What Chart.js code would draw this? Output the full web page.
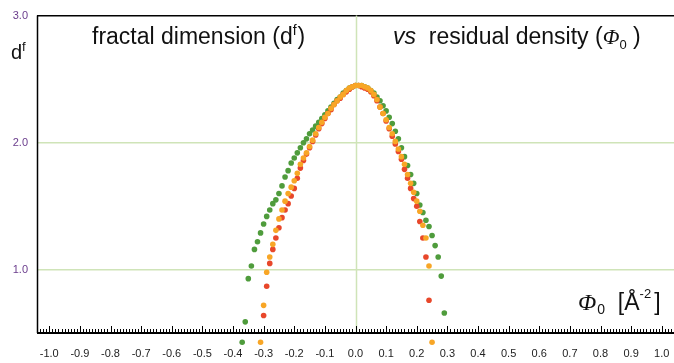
<!DOCTYPE html>
<html>
<head>
<meta charset="utf-8">
<script src="https://cdn.jsdelivr.net/npm/chart.js@4.4.1/dist/chart.umd.min.js"></script>
<style>
  html, body { margin: 0; padding: 0; background: #fff; }
</style>
</head>
<body>
<canvas id="myChart" width="674" height="363"></canvas>
<script>
// residual density Phi0 (A^-2), shared by the three series
const phi = [-0.37, -0.36, -0.35, -0.34, -0.33, -0.32, -0.31, -0.30, -0.29, -0.28,
             -0.27, -0.26, -0.25, -0.24, -0.23, -0.22, -0.21, -0.20, -0.19, -0.18,
             -0.17, -0.16, -0.15, -0.14, -0.13, -0.12, -0.11, -0.10, -0.09, -0.08,
             -0.07, -0.06, -0.05, -0.04, -0.03, -0.02, -0.01, 0.00, 0.01, 0.02,
             0.03, 0.04, 0.05, 0.06, 0.07, 0.08, 0.09, 0.10, 0.11, 0.12,
             0.13, 0.14, 0.15, 0.16, 0.17, 0.18, 0.19, 0.20, 0.21, 0.22,
             0.23, 0.24, 0.25, 0.26, 0.27, 0.28, 0.29];

// fractal dimension df for each series (null = no point)
const dfGreen = [0.43, 0.59, 0.93, 1.03, 1.16, 1.22, 1.29, 1.36, 1.42, 1.47,
                 1.52, 1.55, 1.60, 1.66, 1.73, 1.78, 1.84, 1.88, 1.92, 1.96,
                 2.00, 2.03, 2.07, 2.10, 2.13, 2.16, 2.19, 2.22, 2.25, 2.28,
                 2.31, 2.34, 2.36, 2.39, 2.41, 2.43, 2.44, 2.45, 2.45, 2.45,
                 2.44, 2.43, 2.41, 2.39, 2.36, 2.33, 2.29, 2.25, 2.20, 2.15,
                 2.09, 2.03, 1.96, 1.89, 1.82, 1.75, 1.68, 1.60, 1.51, 1.45,
                 1.39, 1.34, 1.27, 1.19, 1.10, 0.95, 0.66];

const dfOrange = [null, null, null, null, null, null, 0.43, 0.72, 0.98, 1.10,
                  1.20, 1.31, 1.40, 1.47, 1.54, 1.60, 1.65, 1.70, 1.76, 1.83,
                  1.88, 1.92, 1.97, 2.02, 2.07, 2.12, 2.16, 2.20, 2.23, 2.27,
                  2.30, 2.33, 2.36, 2.38, 2.41, 2.43, 2.44, 2.45, 2.45, 2.45,
                  2.44, 2.43, 2.41, 2.38, 2.34, 2.28, 2.23, 2.18, 2.12, 2.07,
                  2.01, 1.95, 1.89, 1.83, 1.75, 1.68, 1.61, 1.54, 1.46, 1.35,
                  1.25, 1.03, 0.43, null, null, null, null];

const dfRed = [null, null, null, null, null, null, null, 0.64, 0.87, 1.05,
               1.16, 1.25, 1.33, 1.41, 1.47, 1.52, 1.58, 1.64, 1.72, 1.80,
               1.86, 1.91, 1.96, 2.01, 2.06, 2.11, 2.15, 2.19, 2.23, 2.26,
               2.30, 2.33, 2.35, 2.38, 2.40, 2.42, 2.44, 2.45, 2.45, 2.44,
               2.43, 2.42, 2.40, 2.37, 2.33, 2.28, 2.23, 2.17, 2.11, 2.05,
               1.99, 1.93, 1.87, 1.79, 1.72, 1.64, 1.56, 1.50, 1.38, 1.25,
               1.10, 0.76, null, null, null, null, null];

const xTickValues = [-1.0, -0.9, -0.8, -0.7, -0.6, -0.5, -0.4, -0.3, -0.2, -0.1, 0.0,
                     0.1, 0.2, 0.3, 0.4, 0.5, 0.6, 0.7, 0.8, 0.9, 1.0];
const yTickValues = [1.0, 2.0, 3.0];
const xAxisAt = 0.5;   // df value where the x axis line sits

const gridGreen = '#cfe4b8';

function toPoints(ys) {
    return phi.map((x, i) => ({x: x, y: ys[i]})).filter(p => p.y !== null);
}

// draws a sequence of text pieces (for super/subscripts)
function drawRuns(ctx, x, y, runs) {
    runs.forEach(r => {
        ctx.font = r.font;
        ctx.fillText(r.t, x, y + (r.dy || 0));
        x += ctx.measureText(r.t).width + (r.gap || 0);
    });
}

const decorations = {
    id: 'decorations',
    beforeDatasetsDraw(chart) {
        const ctx = chart.ctx;
        const xs = chart.scales.x;
        const ys = chart.scales.y;
        const area = chart.chartArea;
        const axisY = Math.round(ys.getPixelForValue(xAxisAt));
        const topY = ys.getPixelForValue(3.0);
        ctx.save();
        // green line at phi = 0
        const zx = Math.round(xs.getPixelForValue(0)) + 0.5;
        ctx.strokeStyle = gridGreen;
        ctx.lineWidth = 1.5;
        ctx.beginPath();
        ctx.moveTo(zx, topY);
        ctx.lineTo(zx, axisY);
        ctx.stroke();
        // left axis
        ctx.strokeStyle = '#000';
        ctx.lineWidth = 1.5;
        ctx.beginPath();
        ctx.moveTo(area.left + 0.5, topY);
        ctx.lineTo(area.left + 0.5, axisY);
        ctx.stroke();
        // bottom axis
        ctx.lineWidth = 2;
        ctx.beginPath();
        ctx.moveTo(area.left, axisY);
        ctx.lineTo(area.right, axisY);
        ctx.stroke();
        // tick marks pointing up
        ctx.lineWidth = 1;
        for (let i = -104; i <= 104; i++) {
            const px = Math.round(xs.getPixelForValue(i / 100)) + 0.5;
            const len = (i % 10 === 0) ? 7 : 4;
            ctx.beginPath();
            ctx.moveTo(px, axisY);
            ctx.lineTo(px, axisY - len);
            ctx.stroke();
        }
        ctx.restore();
    },
    afterDraw(chart) {
        const ctx = chart.ctx;
        ctx.save();
        ctx.fillStyle = '#111';
        ctx.textAlign = 'left';
        ctx.textBaseline = 'alphabetic';
        const sans = '"Liberation Sans", Arial, sans-serif';
        const serif = '"Liberation Serif", "Times New Roman", serif';
        // y axis label
        drawRuns(ctx, 11, 59, [
            {t: 'd', font: '20px ' + sans},
            {t: 'f', font: '13px ' + sans, dy: -8}
        ]);
        // title, left part
        drawRuns(ctx, 92, 44, [
            {t: 'fractal dimension (d', font: '23px ' + sans},
            {t: 'f', font: '14px ' + sans, dy: -9, gap: 1},
            {t: ')', font: '23px ' + sans}
        ]);
        // title, right part
        drawRuns(ctx, 393, 44, [
            {t: 'vs', font: 'italic 23px ' + sans},
            {t: '  residual density (', font: '23px ' + sans},
            {t: 'Φ', font: 'italic 22px ' + serif},
            {t: '0', font: '13px ' + sans, dy: 5},
            {t: ' )', font: '23px ' + sans}
        ]);
        // x axis label
        drawRuns(ctx, 578, 310, [
            {t: 'Φ', font: 'italic 24px ' + serif, gap: 1},
            {t: '0', font: '14px ' + sans, dy: 4},
            {t: '  [', font: '23px ' + sans},
            {t: 'Å', font: '23px ' + sans},
            {t: '-2', font: '13px ' + sans, dy: -12, gap: 3},
            {t: ']', font: '23px ' + sans}
        ]);
        ctx.restore();
    }
};

new Chart('myChart', {
    type: 'scatter',
    data: {
        datasets: [
            {data: toPoints(dfOrange), backgroundColor: '#f8a626', borderWidth: 0, pointRadius: 2.8, clip: false, order: 1},
            {data: toPoints(dfRed), backgroundColor: '#e8472a', borderWidth: 0, pointRadius: 2.8, clip: false, order: 2},
            {data: toPoints(dfGreen), backgroundColor: '#4f9c3c', borderWidth: 0, pointRadius: 2.8, clip: false, order: 3}
        ]
    },
    options: {
        responsive: false,
        animation: false,
        events: [],
        layout: {autoPadding: false, padding: {top: 13, left: 0, right: 0, bottom: 0}},
        plugins: {legend: {display: false}, tooltip: {enabled: false}, title: {display: false}},
        scales: {
            x: {
                type: 'linear',
                min: -1.04,
                max: 1.04,
                afterBuildTicks: s => { s.ticks = xTickValues.map(v => ({value: v})); },
                afterFit: s => { s.height = 17; },
                ticks: {
                    callback: v => v.toFixed(1),
                    color: '#222',
                    font: {size: 11, family: '"Liberation Sans", Arial, sans-serif'},
                    padding: 1,
                    maxRotation: 0,
                    autoSkip: false
                },
                grid: {display: false, drawTicks: false},
                border: {display: false}
            },
            y: {
                min: 0.4,
                max: 3.0,
                afterBuildTicks: s => { s.ticks = yTickValues.map(v => ({value: v})); },
                afterFit: s => { s.width = 37; },
                ticks: {
                    callback: v => v.toFixed(1),
                    color: '#6a3c8c',
                    font: {size: 11, family: '"Liberation Sans", Arial, sans-serif'},
                    padding: 9
                },
                grid: {
                    drawTicks: false,
                    color: c => (c.tick && c.tick.value === 3) ? '#000' : gridGreen,
                    lineWidth: 1.5
                },
                border: {display: false}
            }
        }
    },
    plugins: [decorations]
});
</script>
</body>
</html>
